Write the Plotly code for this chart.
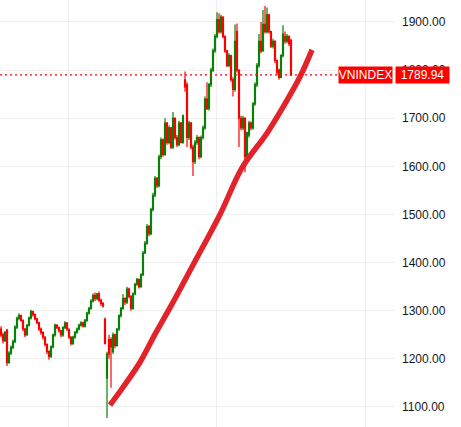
import plotly.graph_objects as go

# ---- data ----
idx = list(range(146))

opens = [1262,1250,1238,1260,1192,1212,1224,1236,1266,1284,1290,1280,1262,1250,1270,1285,
         1298,1292,1283,1275,1262,1255,1245,1230,1215,1205,1225,1250,1270,1265,1258,1250,
         1265,1275,1262,1245,1232,1245,1255,1262,1270,1275,1268,1280,1295,1305,1320,1332,
         1325,1335,1322,1315,1282,1160,1240,1240,1215,1250,1228,1262,1290,1305,1325,1318,
         1345,1330,1305,1335,1355,1365,1350,1375,1420,1440,1475,1460,1510,1540,1575,1560,
         1620,1655,1625,1690,1650,1680,1640,1700,1660,1645,1690,1650,1780,1770,1660,1690,
         1640,1610,1650,1660,1620,1660,1680,1740,1720,1770,1800,1840,1870,1905,1880,1910,
         1870,1840,1810,1830,1780,1760,1880,1800,1700,1680,1700,1620,1665,1690,1680,1730,
         1770,1810,1860,1840,1895,1880,1915,1880,1850,1860,1820,1800,1785,1830,1870,1860,
         1870,1862]
closes = [1250,1238,1255,1192,1212,1224,1236,1266,1284,1290,1280,1262,1250,1270,1285,1298,
          1292,1283,1275,1262,1255,1245,1230,1215,1205,1225,1250,1270,1265,1258,1250,1265,
          1275,1262,1245,1232,1245,1255,1262,1270,1275,1268,1280,1295,1305,1320,1332,1325,
          1335,1322,1315,1310,1232,1210,1210,1225,1250,1228,1262,1290,1305,1325,1318,1345,
          1330,1305,1335,1355,1365,1350,1375,1420,1440,1475,1460,1510,1540,1575,1560,1620,
          1655,1625,1690,1650,1680,1640,1700,1660,1645,1690,1650,1705,1765,1660,1690,1640,
          1610,1650,1660,1620,1660,1680,1740,1720,1770,1800,1840,1870,1905,1880,1910,1870,
          1840,1810,1830,1780,1760,1860,1800,1700,1680,1700,1620,1670,1690,1680,1730,1770,
          1810,1860,1840,1895,1880,1915,1880,1850,1860,1820,1795,1785,1830,1875,1860,1870,
          1855,1789.94]
highs = [1268,1255,1258,1262,1216,1228,1240,1270,1288,1295,1292,1282,1264,1272,1288,1302,
         1300,1294,1285,1277,1265,1257,1247,1232,1218,1228,1252,1273,1272,1267,1260,1268,
         1278,1276,1263,1247,1248,1258,1265,1273,1278,1277,1283,1298,1308,1324,1336,1338,
         1337,1340,1325,1318,1286,1215,1250,1245,1255,1252,1264,1292,1308,1335,1328,1350,
         1348,1332,1338,1358,1368,1366,1378,1424,1445,1480,1478,1514,1545,1580,1578,1624,
         1660,1658,1700,1692,1685,1682,1713,1702,1665,1695,1692,1708,1797,1775,1695,1692,
         1645,1655,1665,1662,1664,1685,1745,1775,1773,1805,1845,1875,1920,1918,1915,1912,
         1872,1842,1835,1832,1785,1895,1897,1802,1705,1705,1702,1672,1695,1693,1734,1775,
         1815,1875,1900,1925,1933,1930,1917,1882,1865,1862,1822,1803,1833,1893,1880,1875,
         1872,1865]
lows = [1245,1232,1235,1185,1190,1208,1220,1233,1262,1280,1277,1258,1245,1248,1267,1282,
        1288,1280,1272,1258,1250,1240,1226,1210,1198,1202,1222,1246,1262,1255,1245,1246,
        1262,1258,1242,1228,1229,1242,1252,1259,1267,1265,1265,1277,1292,1302,1317,1320,
        1322,1318,1310,1306,1230,1077,1200,1140,1210,1222,1225,1258,1286,1302,1312,1314,
        1326,1300,1302,1332,1352,1346,1348,1372,1418,1437,1455,1457,1506,1536,1555,1556,
        1615,1620,1622,1645,1646,1636,1636,1656,1640,1642,1648,1647,1755,1640,1655,1635,
        1580,1605,1645,1615,1617,1656,1676,1717,1716,1765,1796,1836,1866,1876,1876,1866,
        1836,1806,1806,1776,1745,1755,1795,1640,1675,1675,1588,1615,1660,1675,1676,1726,
        1765,1805,1835,1838,1876,1876,1876,1846,1845,1815,1790,1780,1783,1826,1855,1856,
        1850,1788]

# hand-drawn trend line (candle index, price)
trend_x = [54.5, 61, 69.5, 77.5, 85, 96, 109.5, 120.5, 133, 141, 149.5, 155.5]
trend_y = [1104, 1141, 1193, 1255, 1310, 1395, 1500, 1597, 1669, 1723, 1786, 1842]

y_ticks = [1100, 1200, 1300, 1400, 1500, 1600, 1700, 1800, 1900]
y_tick_labels = [f"{v:.2f}" for v in y_ticks]
grid_x = [33.5, 107.5, 182]

last_price = 1789.94
symbol = "VNINDEX"

GREEN = "#078207"
RED = "#ff0000"

fig = go.Figure()
fig.add_trace(go.Candlestick(
    x=idx, open=opens, high=highs, low=lows, close=closes,
    increasing=dict(line=dict(color=GREEN, width=1.2), fillcolor=GREEN),
    decreasing=dict(line=dict(color=RED, width=1.2), fillcolor=RED),
    whiskerwidth=0, showlegend=False, hoverinfo="skip",
))
fig.add_trace(go.Scatter(
    x=trend_x, y=trend_y, mode="lines",
    line=dict(color="#e3222a", width=5.5, shape="spline", smoothing=1.0),
    showlegend=False, hoverinfo="skip",
))

fig.add_hline(y=last_price, line=dict(color=RED, width=1.2, dash="2px,3px"))

fig.add_annotation(x=338/395, xref="paper", y=last_price, yref="y",
                   xanchor="left", yanchor="middle", text=symbol, showarrow=False,
                   bgcolor=RED, font=dict(color="white", size=12, family="Liberation Sans"),
                   width=53, height=16, borderpad=0)
fig.add_annotation(x=1.0, xref="paper", y=last_price, yref="y",
                   xanchor="left", yanchor="middle", text=f"{last_price:.2f}", showarrow=False,
                   bgcolor=RED, font=dict(color="white", size=12, family="Liberation Sans"),
                   width=53, height=16, borderpad=0)

fig.update_layout(
    width=461, height=427,
    margin=dict(l=0, r=66, t=0, b=0),
    paper_bgcolor="white", plot_bgcolor="white",
    xaxis=dict(range=[-0.5, 197], rangeslider=dict(visible=False),
               tickvals=grid_x, showticklabels=False, showgrid=True,
               gridcolor="#efefef", gridwidth=1, zeroline=False, showline=False, ticks=""),
    yaxis=dict(range=[1058.4, 1945.7], side="right", tickvals=y_ticks, ticktext=y_tick_labels,
               showgrid=True, gridcolor="#efefef", gridwidth=1, zeroline=False, showline=False,
               ticks="", ticklabelstandoff=6,
               tickfont=dict(size=12, color="#131722", family="Liberation Sans")),
    hovermode=False,
)

fig.write_html("out.html")
